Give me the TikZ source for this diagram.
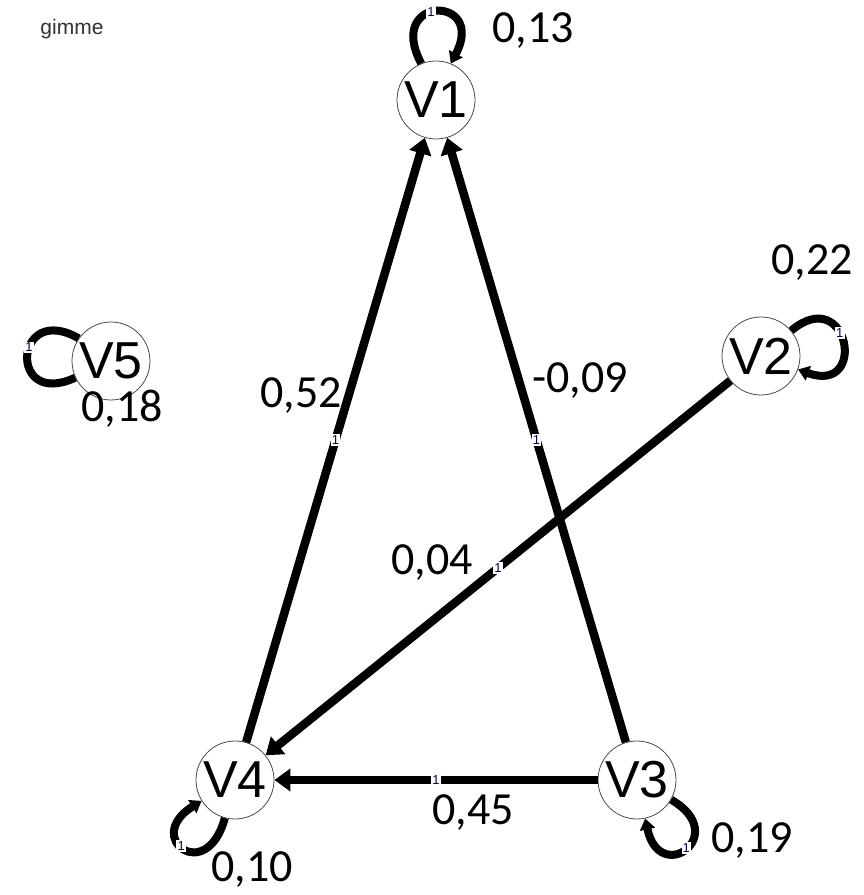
\documentclass[tikz,border=0pt]{standalone}
\usepackage{fontspec}
\setmainfont{Carlito}
\newfontfamily\arialf{Liberation Sans}
\usetikzlibrary{arrows.meta}
\begin{document}
\begin{tikzpicture}[x=1pt,y=1pt,
 vnode/.style={circle,draw=black!70,line width=0.8pt,fill=white,minimum size=78pt,inner sep=0pt,font=\arialf\fontsize{52}{52}\selectfont},
 edgeline/.style={line width=8.5pt,-{Triangle[length=16pt,width=22pt]}},
 selfloop/.style={line width=8pt,-{Triangle[length=11pt,width=15pt]}},
 selfloopplain/.style={line width=8pt},
 one/.style={fill=white,inner sep=1.2pt,font=\arialf\fontsize{13}{13}\selectfont,text=black!70!blue},
 wlab/.style={anchor=base,inner sep=0pt,font=\fontsize{46}{46}\selectfont}]
\useasboundingbox (0,0) rectangle (864,895);

% nodes
\node[vnode] (V1) at (436,795) {V1};
\node[vnode] (V2) at (761,539) {V2};
\node[vnode] (V5) at (111,534) {V5};
\node[vnode] (V4) at (235,115) {V4};
\node[vnode] (V3) at (637,115) {V3};

% title
\node[font=\arialf\fontsize{21}{21}\selectfont,text=black!80,anchor=base,inner sep=0pt] (title) at (72,860) {gimme};

% edges
\draw[edgeline] (V4) -- node[one]{1} (V1);
\draw[edgeline] (V3) -- node[one]{1} (V1);
\draw[edgeline] (V2) -- node[one]{1} (V4);
\draw[edgeline] (V3) -- node[one]{1} (V4);

% self loops
\draw[selfloop] (V1.112) .. controls +(118:78) and +(62:78) .. node[one,pos=0.45]{1} (V1.68);
\draw[selfloop] (V2.40) .. controls +(40:75) and +(-20:75) .. node[one,pos=0.42]{1} (V2.-20);
\draw[selfloopplain] (V5.145) .. controls +(150:75) and +(205:75) .. node[one,pos=0.42]{1} (V5.205);
\draw[selfloop] (V4.255) .. controls +(255:70) and +(212:70) .. node[one,pos=0.55]{1} (V4.212);
\draw[selfloop] (V3.-30) .. controls +(-30:70) and +(-78:70) .. node[one,pos=0.5]{1} (V3.-78);

% weights
\node[wlab] (w13) at (533,852) {0,13};
\node[wlab] (w22) at (812,620) {0,22};
\node[wlab] (w18) at (122,473) {0,18};
\node[wlab] (w10) at (252,13) {0,10};
\node[wlab] (w19) at (752,42) {0,19};
\node[wlab] (w52) at (301,487) {0,52};
\node[wlab] (w09) at (580,502) {-0,09};
\node[wlab] (w04) at (432,320) {0,04};
\node[wlab] (w45) at (473,70) {0,45};
\end{tikzpicture}
\end{document}
